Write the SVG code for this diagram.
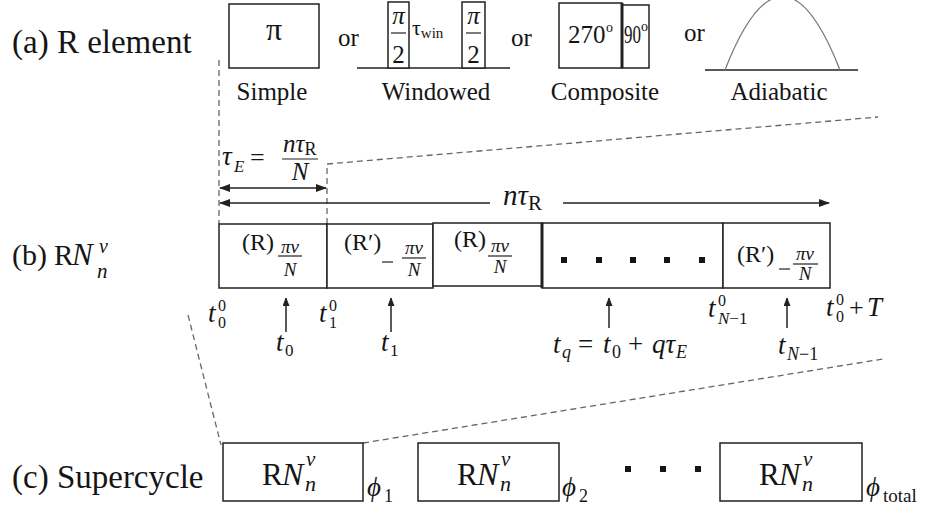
<svg xmlns="http://www.w3.org/2000/svg" width="933" height="508" viewBox="0 0 933 508" font-family="'Liberation Serif', 'DejaVu Serif', serif">
<style>
text{font-family:"Liberation Serif","DejaVu Serif",serif;fill:#151515}
.lbl{font-size:33px}
.cap{font-size:25px;text-anchor:middle}
.or{font-size:25px}
.m{font-style:italic}
.mid{text-anchor:middle}
.box{fill:#fff;stroke:#222;stroke-width:1.5}
.ln{stroke:#222;stroke-width:1.5;fill:none}
.bar{stroke:#222;stroke-width:1.2}
.dash{fill:none;stroke:#666;stroke-width:1.3;stroke-dasharray:6 4}
.dot{fill:#151515}
</style>
<defs>
<marker id="ah" markerWidth="11" markerHeight="8" refX="10" refY="4" orient="auto-start-reverse" markerUnits="userSpaceOnUse"><path d="M0,0 L11,4 L0,8 z" fill="#222"/></marker>
<marker id="ahs" markerWidth="8" markerHeight="8" refX="8" refY="3.5" orient="auto" markerUnits="userSpaceOnUse"><path d="M0,0 L9,3.5 L0,7 z" fill="#222"/></marker>
</defs>

<!-- connectors / guide lines -->
<g id="connectors">
<path class="dash" d="M219,60 V224"/>
<path class="dash" d="M327,224 V164 L878,117"/>
<path class="dash" d="M188,315 L221,445"/>
<path class="dash" d="M363,443 L883,359"/>
<line class="ln" x1="220" y1="188" x2="326" y2="188" marker-start="url(#ah)" marker-end="url(#ah)"/>
<line class="ln" x1="220" y1="203" x2="490" y2="203" marker-start="url(#ah)"/>
<line class="ln" x1="563" y1="203" x2="829" y2="203" marker-end="url(#ah)"/>
<line class="ln" x1="286" y1="332" x2="286" y2="298" marker-end="url(#ahs)"/>
<line class="ln" x1="391" y1="332" x2="391" y2="298" marker-end="url(#ahs)"/>
<line class="ln" x1="609" y1="328" x2="609" y2="298" marker-end="url(#ahs)"/>
<line class="ln" x1="787" y1="328" x2="787" y2="298" marker-end="url(#ahs)"/>
</g>

<!-- (a) -->
<g id="label-a"><text class="lbl" x="12" y="53">(a) R element</text></g>
<g id="simple">
<rect class="box" x="229" y="4" width="90" height="64"/>
<text x="274" y="40" font-size="32" class="mid">π</text>
<text class="cap" x="272" y="100">Simple</text>
</g>
<text class="or" x="338" y="46">or</text>
<g id="windowed">
<line class="ln" x1="357" y1="68" x2="510" y2="68"/>
<rect class="box" x="388" y="2" width="21" height="66"/>
<text class="m mid" x="398.5" y="24" font-size="25">π</text>
<line class="bar" x1="391" y1="33" x2="406" y2="33"/>
<text class="mid" x="398.5" y="63" font-size="25">2</text>
<text x="412" y="35" font-size="22">τ<tspan font-size="15" dy="3">win</tspan></text>
<rect class="box" x="462" y="2" width="23" height="66"/>
<text class="m mid" x="473.5" y="24" font-size="25">π</text>
<line class="bar" x1="466" y1="33" x2="481" y2="33"/>
<text class="mid" x="473.5" y="63" font-size="25">2</text>
<text class="cap" x="436" y="100">Windowed</text>
</g>
<text class="or" x="511" y="46">or</text>
<g id="composite">
<rect class="box" x="559" y="3" width="63" height="65"/>
<rect class="box" x="622" y="5" width="27" height="63"/>
<line x1="622" y1="3" x2="622" y2="68" stroke="#222" stroke-width="3"/>
<text x="568" y="43" font-size="25">270</text>
<text x="606" y="32" font-size="14">o</text>
<text x="624" y="43" font-size="25" textLength="17" lengthAdjust="spacingAndGlyphs">90</text>
<text x="641" y="31" font-size="14">o</text>
<text class="cap" x="605" y="100">Composite</text>
</g>
<text class="or" x="684" y="41">or</text>
<g id="adiabatic">
<line class="ln" x1="705" y1="70" x2="858" y2="70"/>
<path d="M725,70 Q782.5,-77 840,70" stroke="#777" stroke-width="1.2" fill="none"/>
<text class="cap" x="779" y="100">Adiabatic</text>
</g>

<!-- (b) -->
<g id="label-b">
<text x="12" y="265" font-size="30">(b)</text>
<text x="54" y="265" font-size="29">R</text>
<text class="m" x="72" y="265" font-size="31">N</text>
<text class="m" x="99" y="253" font-size="20">ν</text>
<text class="m" x="97" y="278" font-size="21">n</text>
</g>
<g id="tauE">
<text class="m" x="222" y="165" font-size="27">τ</text>
<text class="m" x="234" y="172" font-size="17">E</text>
<text x="250" y="166" font-size="26">=</text>
<text x="283" y="152" font-size="25"><tspan class="m">nτ</tspan><tspan font-size="18" dy="3">R</tspan></text>
<line class="bar" x1="282" y1="159" x2="318" y2="159"/>
<text class="m mid" x="300" y="180" font-size="25">N</text>
</g>
<g id="ntauR">
<text x="503" y="205" font-size="29"><tspan class="m">nτ</tspan><tspan font-size="21" dy="5">R</tspan></text>
</g>
<g id="seg1">
<rect class="box" x="219" y="224" width="108" height="64"/>
<text x="242" y="250" font-size="24">(R)</text>
<text class="m mid" x="290" y="253" font-size="19">πν</text>
<line class="bar" x1="278" y1="256" x2="302" y2="256"/>
<text class="m mid" x="290" y="276" font-size="19">N</text>
</g>
<g id="seg2">
<rect class="box" x="327" y="224" width="106" height="64"/>
<text x="344" y="250" font-size="24">(R′)</text>
<line class="bar" x1="382" y1="262" x2="393" y2="262"/>
<text class="m mid" x="414" y="254" font-size="19">πν</text>
<line class="bar" x1="402" y1="258" x2="426" y2="258"/>
<text class="m mid" x="414" y="276" font-size="19">N</text>
</g>
<g id="seg3">
<rect class="box" x="433" y="223" width="109" height="63"/>
<text x="454" y="247" font-size="24">(R)</text>
<text class="m mid" x="500" y="252" font-size="19">πν</text>
<line class="bar" x1="488" y1="256" x2="512" y2="256"/>
<text class="m mid" x="500" y="273" font-size="19">N</text>
</g>
<g id="seg4">
<rect class="box" x="542" y="223" width="181" height="65"/>
<line x1="542" y1="223" x2="542" y2="288" stroke="#222" stroke-width="3"/>
<rect class="dot" x="561" y="257" width="6" height="6"/>
<rect class="dot" x="596" y="257" width="6" height="6"/>
<rect class="dot" x="630" y="257" width="6" height="6"/>
<rect class="dot" x="664" y="257" width="6" height="6"/>
<rect class="dot" x="699" y="257" width="6" height="6"/>
</g>
<g id="seg5">
<rect class="box" x="723" y="223" width="107" height="65"/>
<text x="737" y="262" font-size="24">(R′)</text>
<line class="bar" x1="779" y1="269" x2="790" y2="269"/>
<text class="m mid" x="805" y="260" font-size="19">πν</text>
<line class="bar" x1="793" y1="264" x2="818" y2="264"/>
<text class="m mid" x="805" y="280" font-size="19">N</text>
</g>

<g id="times">
<text class="m" x="208" y="322" font-size="27">t</text><text x="218" y="311" font-size="16">0</text><text x="218" y="328" font-size="16">0</text>
<text class="m" x="319" y="322" font-size="27">t</text><text x="329" y="311" font-size="16">0</text><text x="329" y="328" font-size="16">1</text>
<text class="m" x="276" y="351" font-size="27">t</text><text x="285" y="356" font-size="17">0</text>
<text class="m" x="381" y="351" font-size="27">t</text><text x="390" y="356" font-size="17">1</text>
<g id="tq">
<text class="m" x="553" y="353" font-size="27">t</text>
<text class="m" x="562" y="358" font-size="18">q</text>
<text x="578" y="353" font-size="27">=</text>
<text class="m" x="603" y="353" font-size="27">t</text>
<text x="612" y="358" font-size="18">0</text>
<text x="628" y="353" font-size="27">+</text>
<text class="m" x="652" y="353" font-size="27">qτ</text>
<text class="m" x="676" y="358" font-size="18">E</text>
</g>
<text class="m" x="708" y="317" font-size="27">t</text><text x="718" y="306" font-size="16">0</text><text x="718" y="324" font-size="17"><tspan class="m">N</tspan>−1</text>
<text class="m" x="778" y="354" font-size="27">t</text><text x="787" y="360" font-size="18"><tspan class="m">N</tspan>−1</text>
<text class="m" x="826" y="316" font-size="27">t</text><text x="836" y="305" font-size="16">0</text><text x="836" y="322" font-size="16">0</text>
<text x="849" y="316" font-size="26">+</text><text class="m" x="867" y="316" font-size="27">T</text>
</g>

<!-- (c) -->
<g id="label-c"><text class="lbl" x="12" y="488">(c) Supercycle</text></g>
<g id="rn1">
<rect class="box" x="223" y="443" width="140" height="58"/>
<text x="262" y="485" font-size="31">R</text>
<text class="m" x="282" y="485" font-size="32">N</text>
<text class="m" x="306" y="466" font-size="21">ν</text>
<text class="m" x="305" y="491" font-size="22">n</text>
<text class="m" x="367" y="496" font-size="27">ϕ</text><text x="384" y="502" font-size="18">1</text>
</g>
<g id="rn2" transform="translate(195,0)">
<rect class="box" x="223" y="443" width="141" height="58"/>
<text x="262" y="485" font-size="31">R</text>
<text class="m" x="282" y="485" font-size="32">N</text>
<text class="m" x="306" y="466" font-size="21">ν</text>
<text class="m" x="305" y="491" font-size="22">n</text>
<text class="m" x="367" y="496" font-size="27">ϕ</text><text x="384" y="502" font-size="18">2</text>
</g>
<g id="ellipsis-c">
<rect class="dot" x="625" y="466" width="6" height="6"/>
<rect class="dot" x="660" y="466" width="6" height="6"/>
<rect class="dot" x="695" y="466" width="6" height="6"/>
</g>
<g id="rn3" transform="translate(497,0)">
<rect class="box" x="223" y="443" width="142" height="58"/>
<text x="262" y="485" font-size="31">R</text>
<text class="m" x="282" y="485" font-size="32">N</text>
<text class="m" x="306" y="466" font-size="21">ν</text>
<text class="m" x="305" y="491" font-size="22">n</text>
<text class="m" x="369" y="496" font-size="27">ϕ</text><text x="386" y="502" font-size="19">total</text>
</g>
</svg>
